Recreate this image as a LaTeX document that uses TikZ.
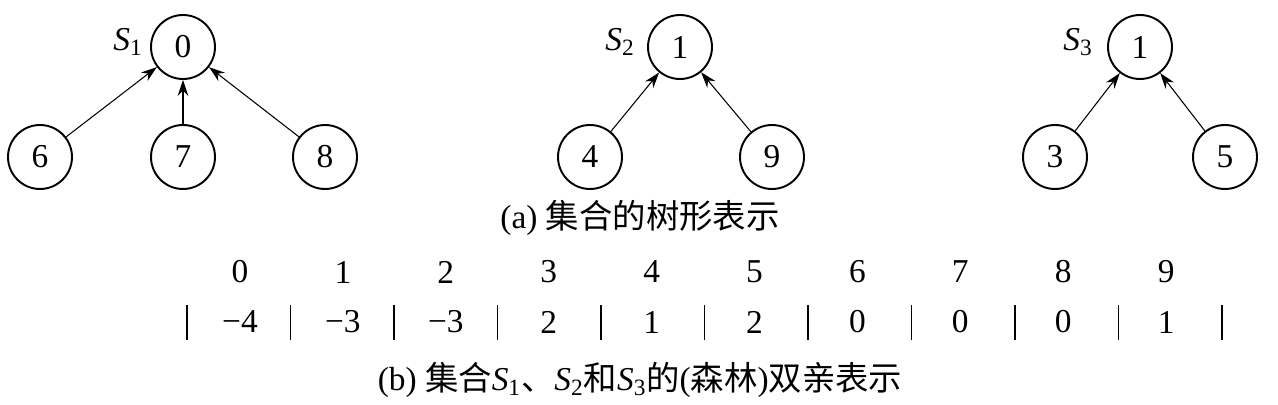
\documentclass[tikz,border=0pt]{standalone}
\usepackage{fontspec}
\setmainfont{Liberation Serif}
\newfontfamily\cjk{Noto Sans CJK SC}
\usetikzlibrary{arrows.meta}
\newcommand{\setS}[1]{\textit{S}\textsubscript{#1}}
\begin{document}
\begin{tikzpicture}[x=0.02cm,y=-0.02cm,
        font=\fontsize{19}{22}\selectfont,
        vertex/.style={circle,draw,line width=1.1pt,minimum size=1.28cm,inner sep=0pt},
        link/.style={-{Stealth[length=9pt,width=6pt]},semithick},
        bar/.style={line width=1pt}]
        \useasboundingbox (0,0) rectangle (1278,405);
        % tree S1
        \node[vertex] (r0) at (183,47)  {0};
        \node[vertex] (n6) at (40,157)  {6};
        \node[vertex] (n7) at (183,157) {7};
        \node[vertex] (n8) at (325,157) {8};
        \node (s1) at (128,42) {\setS{1}};
        % tree S2
        \node[vertex] (r1) at (680,47)  {1};
        \node[vertex] (n4) at (590,157) {4};
        \node[vertex] (n9) at (772,157) {9};
        \node (s2) at (620,42) {\setS{2}};
        % tree S3
        \node[vertex] (r2) at (1140,47)  {1};
        \node[vertex] (n3) at (1055,157) {3};
        \node[vertex] (n5) at (1225,157) {5};
        \node (s3) at (1078,42) {\setS{3}};
        \foreach \c/\p in {n6/r0,n7/r0,n8/r0,n4/r1,n9/r1,n3/r2,n5/r2}
            \draw[link] (\c) -- (\p);
        \node (capa) at (640,218) {(a) {\cjk 集合的树形表示}};
        % parent array
        \foreach \i/\v [count=\k from 0] in {0/−4,1/−3,2/−3,3/2,4/1,5/2,6/0,7/0,8/0,9/1} {
            \node (idx\i) at (240+102.9*\k,272) {\i};
            \node (val\i) at (240+102.9*\k,322) {\v};
        }
        \foreach \k in {0,...,10}
            \draw[bar] (187+103.5*\k,305) -- (187+103.5*\k,340);
        \node (capb) at (640,380) {(b) {\cjk 集合}\setS{1}{\cjk 、}\setS{2}{\cjk 和}\setS{3}{\cjk 的}({\cjk 森林}){\cjk 双亲表示}};
\end{tikzpicture}
\end{document}
